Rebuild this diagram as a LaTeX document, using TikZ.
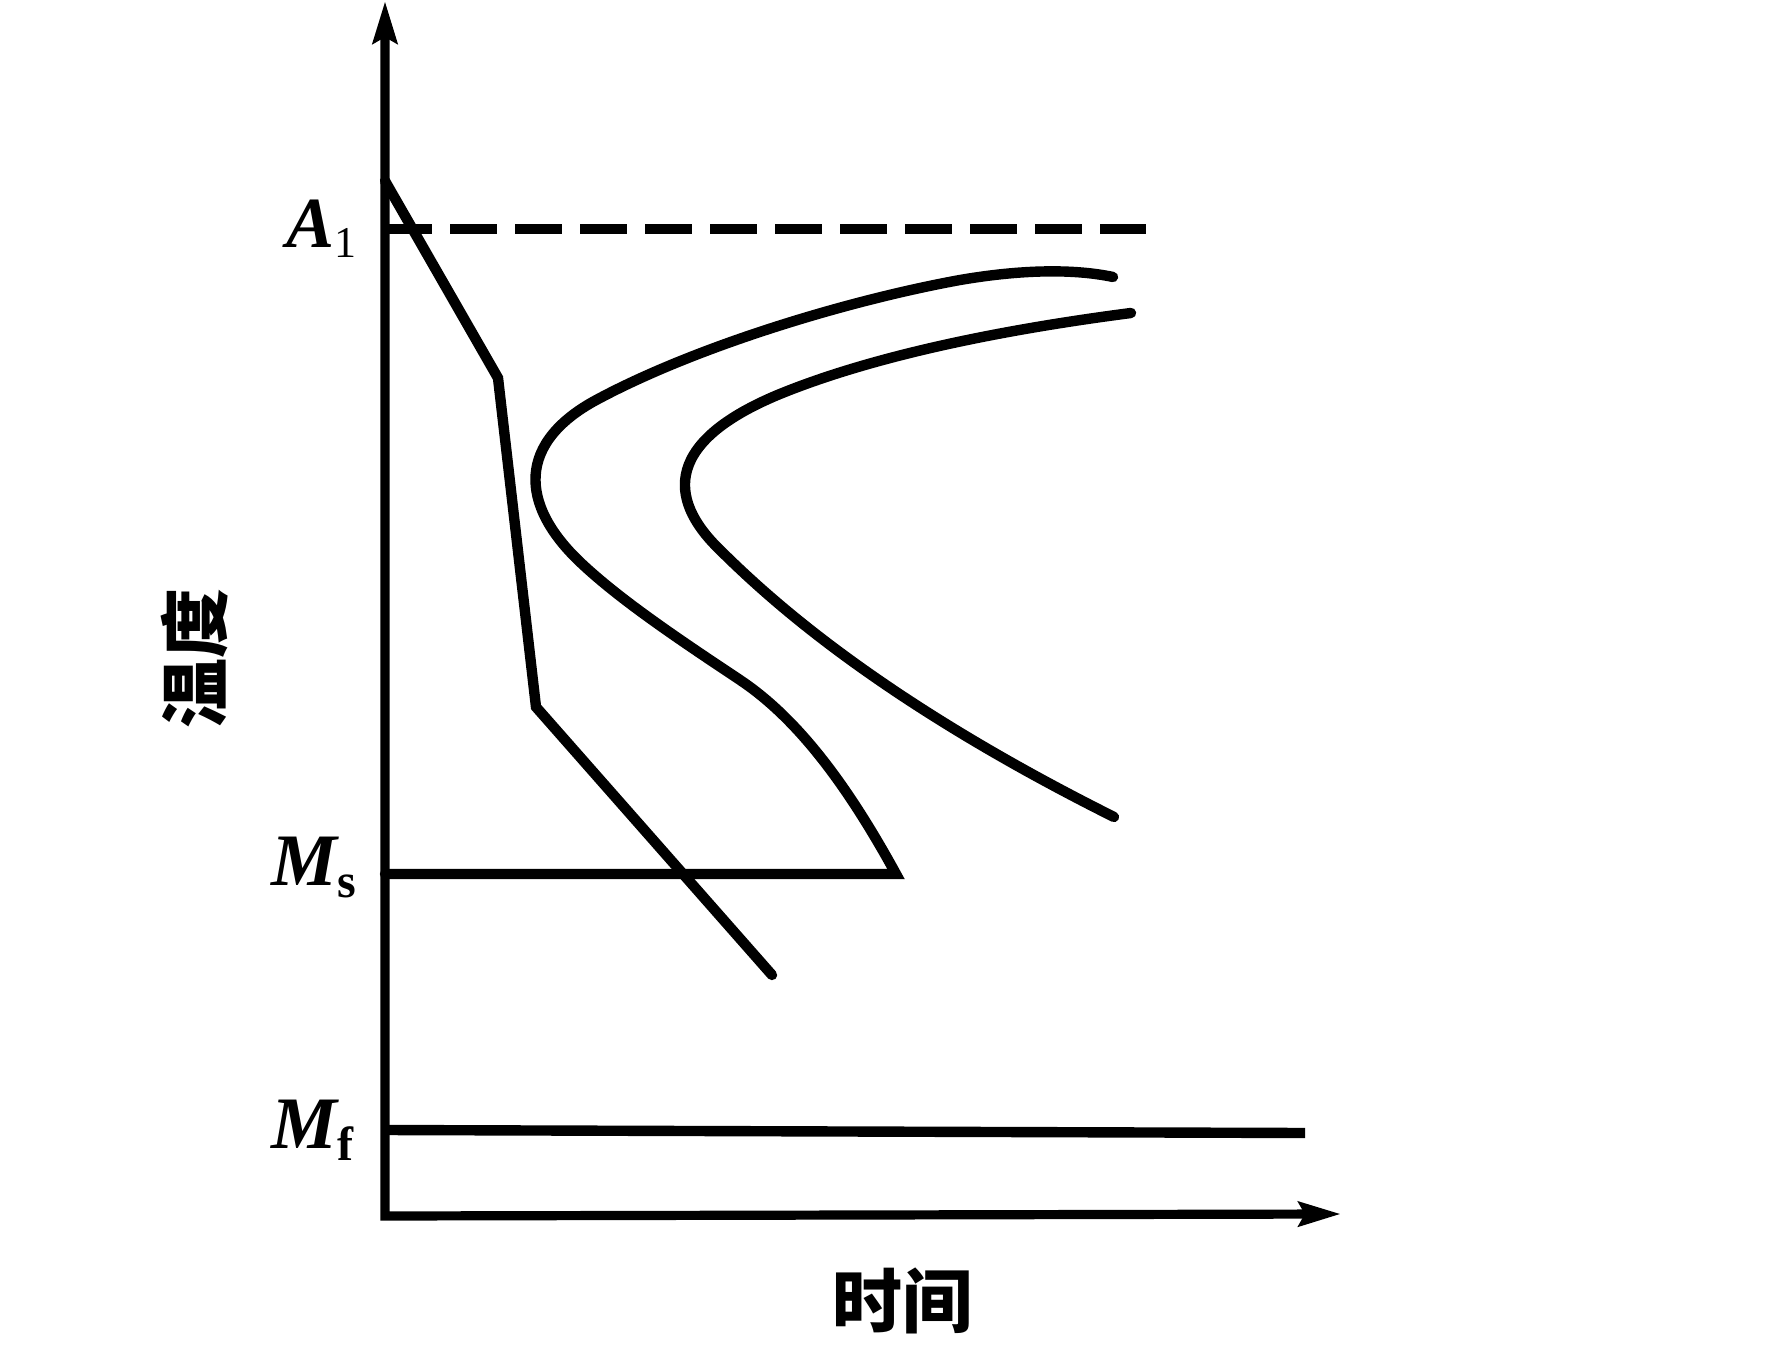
\documentclass[tikz,border=0pt]{standalone}
\usepackage{fontspec}
\setmainfont{Liberation Serif}
\newfontfamily\cjk{Noto Sans CJK SC}
\usetikzlibrary{arrows.meta}
\begin{document}
\begin{tikzpicture}[x=0.5pt,y=-0.5pt,
  axisline/.style={line width=4.6pt,line join=miter},
  curveline/.style={line width=5.2pt,line cap=round,line join=round},
  dashline/.style={line width=4.6pt,dash pattern=on 23.5pt off 9pt},
  sym/.style={inner sep=0pt,anchor=base west},
  cjklabel/.style={inner sep=0pt,font=\cjk\bfseries\fontsize{35}{38}\selectfont}]
\useasboundingbox (0,0) rectangle (1776,1368);
% axes
\coordinate (origin) at (385,1216);
\coordinate (ytip) at (385,1);
\coordinate (xtip) at (1341,1214);
\draw[axisline,{Stealth[length=21pt,width=12pt,inset=3pt]}-{Stealth[length=21pt,width=12pt,inset=3pt]}]
  (ytip) -- (origin) -- (xtip);
% A1 dashed line
\coordinate (a1l) at (385,229);
\coordinate (a1r) at (1146,229);
\draw[dashline] (a1l) -- (a1r);
% Mf line
\coordinate (mfl) at (385,1130);
\coordinate (mfr) at (1305,1133);
\draw[line width=5.2pt] (mfl) -- (mfr);
% Ms line + left C curve
\coordinate (msl) at (385,874);
\coordinate (msr) at (896,874);
\draw[curveline,line join=miter] (msl) -- (msr)
  .. controls (850,790) and (800,720) .. (740,680)
  .. controls (680,640) and (620,600) .. (580,562)
  .. controls (520,505) and (515,442) .. (600,398)
  .. controls (700,345) and (850,300) .. (960,280)
  .. controls (1030,268) and (1080,270) .. (1113,277);
% right C curve
\coordinate (r0) at (1131,313);
\coordinate (r1) at (790,390);
\coordinate (r2) at (717,547);
\coordinate (r3) at (1114,817);
\draw[curveline] (r0)
  .. controls (1000,330) and (880,355) .. (r1)
  .. controls (660,440) and (670,500) .. (r2)
  .. controls (770,600) and (880,700) .. (r3);
% cooling curve
\coordinate (c0) at (385,181);
\coordinate (c1) at (498,378);
\coordinate (c2) at (536,707);
\coordinate (c3) at (772,975);
\draw[curveline,line join=miter] (c0) -- (c1) -- (c2) -- (c3);
% labels
\node[sym] (A1) at (286,248) {{\fontsize{36}{40}\selectfont\bfseries\itshape A}\raisebox{-5pt}{\fontsize{22}{24}\selectfont 1}};
\node[sym] (Ms) at (271,885) {{\fontsize{37}{40}\selectfont\bfseries\itshape M}\raisebox{-6pt}{\fontsize{24}{26}\selectfont\bfseries s}};
\node[sym] (Mf) at (271,1148) {{\fontsize{37}{40}\selectfont\bfseries\itshape M}\raisebox{-6pt}{\fontsize{24}{26}\selectfont\bfseries f}};
\node[cjklabel,rotate=90] (wendu) at (195,658) {温度};
\node[cjklabel] (shijian) at (902,1301) {时间};
\end{tikzpicture}
\end{document}
